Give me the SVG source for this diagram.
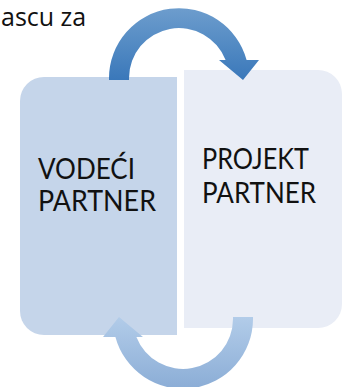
<svg xmlns="http://www.w3.org/2000/svg" width="344" height="387" viewBox="0 0 344 387">
  <defs>
    <linearGradient id="gTop" x1="0" y1="0" x2="0" y2="1">
      <stop offset="0" stop-color="#6d9dcd"/>
      <stop offset="1" stop-color="#3a78ba"/>
    </linearGradient>
    <linearGradient id="gBot" x1="0" y1="0" x2="0" y2="1">
      <stop offset="0" stop-color="#8badd6"/>
      <stop offset="1" stop-color="#b2cce9"/>
    </linearGradient>
    <style>
      .lbl { font-family: Lato, "Open Sans", "Liberation Sans", sans-serif; font-size: 28px; fill: #111; }
      .cap { font-family: "Open Sans", "Liberation Sans", sans-serif; font-size: 25px; fill: #111; }
    </style>
  </defs>
  <rect width="344" height="387" fill="#ffffff"/>
  <text class="cap" x="1" y="26">ascu za</text>
  <g id="vodeci-partner">
    <path d="M44 77 H177 V335 H44 A24 24 0 0 1 20 311 V101 A24 24 0 0 1 44 77 Z" fill="#c5d5ea"/>
    <text class="lbl" x="38" y="179" textLength="97" lengthAdjust="spacingAndGlyphs">VODEĆI</text>
    <text class="lbl" x="38" y="211" textLength="118" lengthAdjust="spacingAndGlyphs">PARTNER</text>
  </g>
  <g id="projekt-partner">
    <path d="M184 70 H318 A24 24 0 0 1 342 94 V304 A24 24 0 0 1 318 328 H184 Z" fill="#e9edf6"/>
    <text class="lbl" x="202" y="169" textLength="107" lengthAdjust="spacingAndGlyphs">PROJEKT</text>
    <text class="lbl" x="202" y="203" textLength="114" lengthAdjust="spacingAndGlyphs">PARTNER</text>
  </g>
  <g id="connectors">
    <path d="M109 80 L109 78 A70 70 0 0 1 246.6 60 L259 60 L243 80 L219 60 L225.6 60 A50 50 0 0 0 129 78 L129 80 Z" fill="url(#gTop)"/>
    <path d="M109 80 L109 78 A70 70 0 0 1 246.6 60 L259 60 L243 80 L219 60 L225.6 60 A50 50 0 0 0 129 78 L129 80 Z" fill="url(#gBot)" transform="rotate(180 181 198.5)"/>
  </g>
</svg>
